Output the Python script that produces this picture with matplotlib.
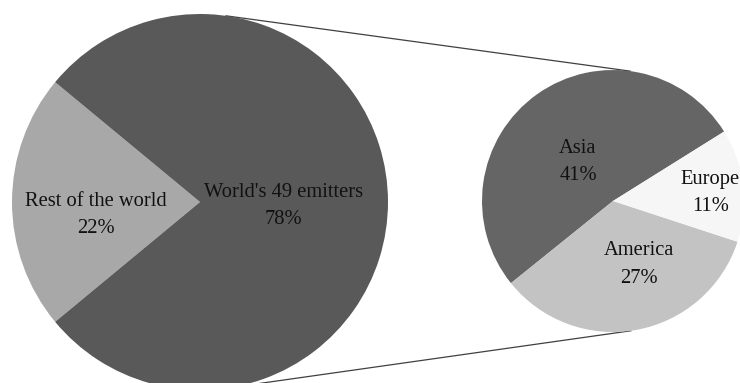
import numpy as np
import matplotlib
matplotlib.use("Agg")
import matplotlib.pyplot as plt

# Share of emissions: 49 largest emitters vs. the rest of the world
main_labels = ["Rest of the world", "World's 49 emitters"]
main_values = [22, 78]
main_colors = ["#a8a8a8", "#595959"]

# Breakdown of the 49 emitters by region
sub_labels = ["Asia", "America", "Europe"]
sub_values = [41, 27, 11]
sub_colors = ["#656565", "#c3c3c3", "#f6f6f6"]

W, H = 740, 383
fig = plt.figure(figsize=(W / 100, H / 100), dpi=100)
ax = fig.add_axes([0, 0, 1, 1])

font = dict(family=["Liberation Serif", "DejaVu Serif"], size=14.8, color="#111111",
            ha="center", va="center", linespacing=1.62)

# Main pie, "Rest of the world" wedge centred on the left side
big_c, big_r = (200, 181), 188
rest_share = main_values[0] / sum(main_values)
ax.pie(main_values, colors=main_colors, startangle=180 - rest_share * 180,
       counterclock=True, center=big_c, radius=big_r,
       wedgeprops=dict(linewidth=0))

# Secondary pie with the regional split
small_c, small_r = (613, 182), 131
ax.pie(sub_values, colors=sub_colors, startangle=32, counterclock=True,
       center=small_c, radius=small_r, wedgeprops=dict(linewidth=0))

# External tangent lines joining the two pies
(x1, y1), (x2, y2) = big_c, small_c
d = np.hypot(x2 - x1, y2 - y1)
base = np.arctan2(y2 - y1, x2 - x1)
phi = np.arccos((big_r - small_r) / d)
for s in (1, -1):
    a = base + s * phi
    p1 = (x1 + big_r * np.cos(a), y1 + big_r * np.sin(a))
    p2 = (x2 + small_r * np.cos(a), y2 + small_r * np.sin(a))
    ax.plot([p1[0], p2[0]], [p1[1], p2[1]], color="#404040", lw=0.9,
            solid_capstyle="butt", zorder=0)

# Wedge labels
ax.text(283.5, 177, f"{main_labels[1]}\n{main_values[1]}%", **font)
ax.text(96, 168, f"{main_labels[0]}\n{main_values[0]}%", **font)
ax.text(578, 221, f"{sub_labels[0]}\n{sub_values[0]}%", **font)
ax.text(639, 118.5, f"{sub_labels[1]}\n{sub_values[1]}%", **font)
ax.text(710.5, 190, f"{sub_labels[2]}\n{sub_values[2]}%", **font)

ax.set_xlim(0, W)
ax.set_ylim(0, H)
ax.set_aspect("equal")
ax.axis("off")

fig.savefig("out.png", dpi=100, facecolor="white")
